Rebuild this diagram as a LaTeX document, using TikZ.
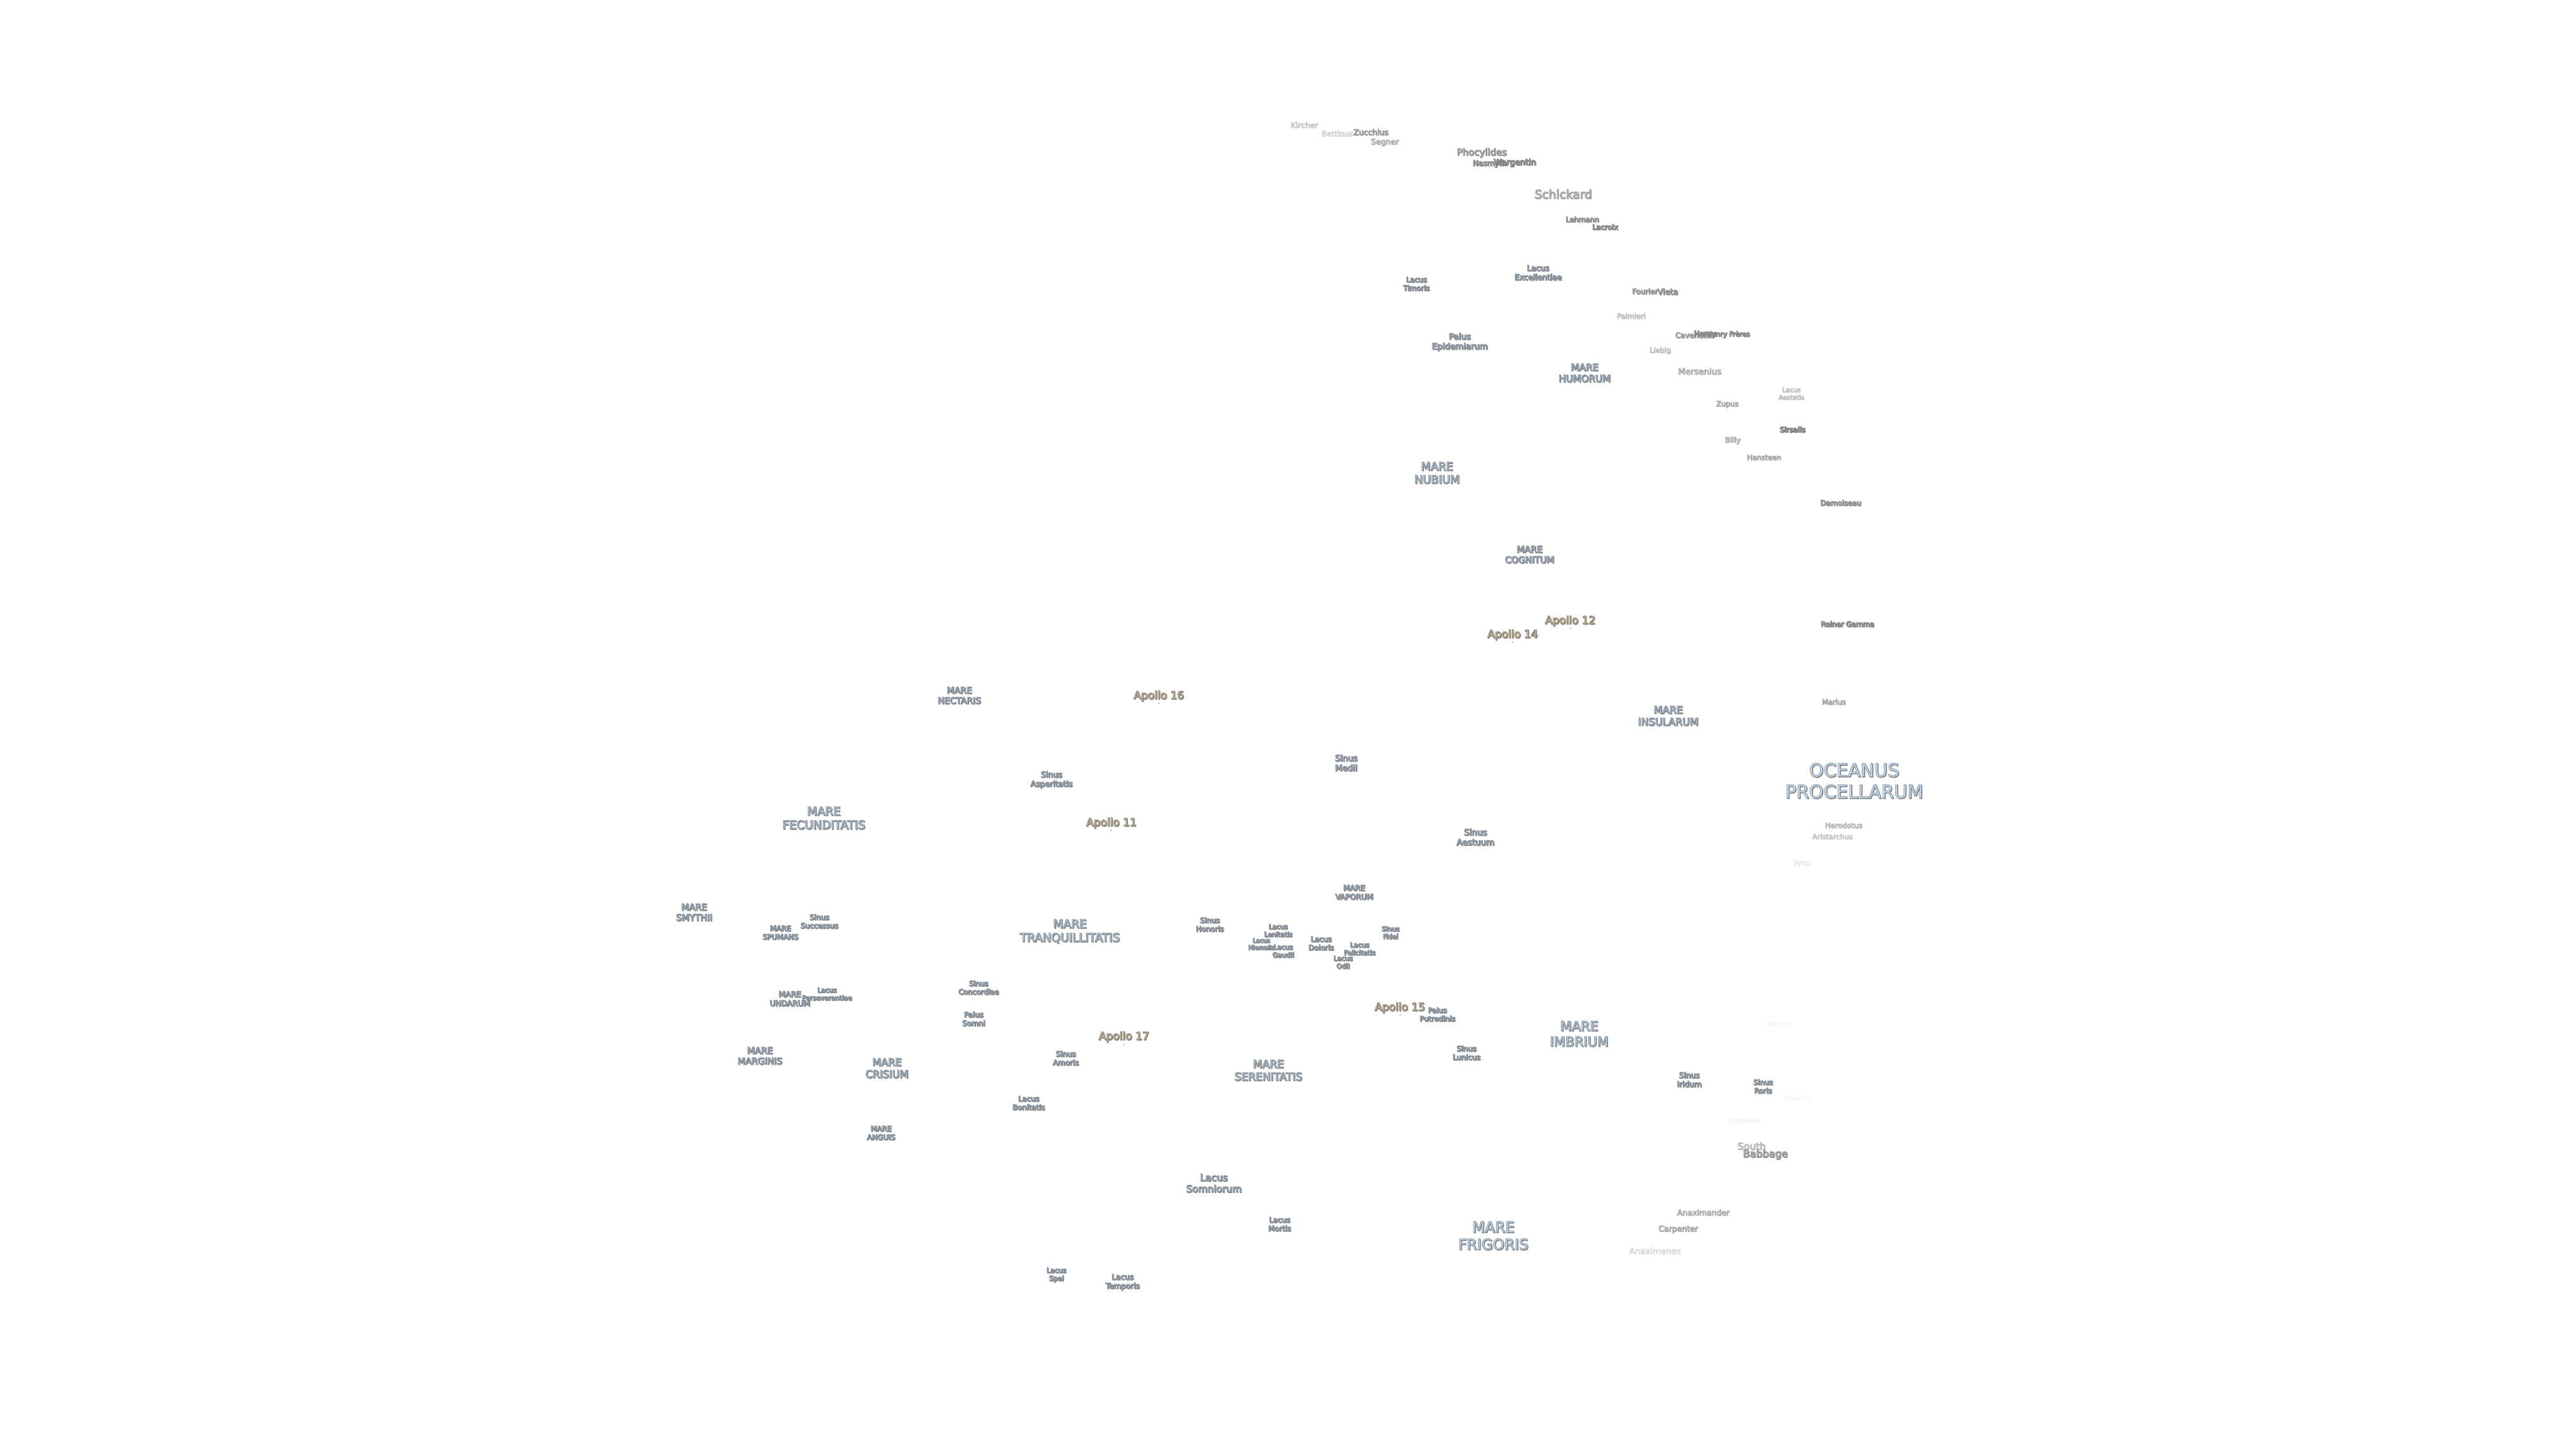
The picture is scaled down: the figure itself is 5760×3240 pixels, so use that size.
\documentclass[tikz,border=0pt]{standalone}
\usepackage{fontspec}
\newfontfamily\lblfont{DejaVu Sans}
\definecolor{marefill}{HTML}{CBE3FA}
\definecolor{mareline}{HTML}{8E99A4}
\definecolor{apfill}{HTML}{FCE2B0}
\definecolor{apline}{HTML}{978D7C}
\definecolor{crfill}{HTML}{E8E8E8}
\definecolor{crline}{HTML}{8A8A8A}
\definecolor{lblshade}{HTML}{737373}
\newsavebox{\lblbox}
\newcommand{\lbl}[1]{\setbox\lblbox=\hbox{\begin{tabular}{@{}c@{}}#1\end{tabular}}%
\rlap{\raisebox{-1.2pt}{\hspace{1.2pt}\color{lblshade}\usebox{\lblbox}}}%
{\pgfsetstrokecolor{\lblline}\usebox{\lblbox}}}
\tikzset{
fs/.code={\pgfmathsetmacro\lblskip{#1*1.17}\pgfmathsetmacro\lblfb{140/#1}%
\tikzset{font=\lblfont\fontsize{#1}{\lblskip}\selectfont\addfontfeature{FakeBold=\lblfb}}},
lblbase/.style={inner sep=0pt,outer sep=0pt},
mare/.style={lblbase,text=marefill,execute at begin node={\def\lblline{mareline}}},
apollo/.style={lblbase,fs=24,text=apfill,execute at begin node={\def\lblline{apline}}},
crater/.style={lblbase,text=crfill,execute at begin node={\def\lblline{crline}}},
site/.style={circle,fill=apline,inner sep=0pt,minimum size=3pt}
}
\begin{document}
\begin{tikzpicture}[x=1pt,y=-1pt]
\useasboundingbox (0,-2) rectangle (5760,3238);
\node[crater,fs=17.5,opacity=.2] (kircher) at (2916,280) {\lbl{Kircher}};
\node[crater,fs=17,opacity=.15] (bettinus) at (2990,299) {\lbl{Bettinus}};
\node[crater,fs=17.5,opacity=.55] (zucchius) at (3065,296) {\lbl{Zucchius}};
\node[crater,fs=17.5,opacity=.35] (segner) at (3096,317) {\lbl{Segner}};
\node[crater,fs=21,opacity=.65] (phocylides) at (3313,341) {\lbl{Phocylides}};
\node[crater,fs=17,opacity=.8] (nasmyth) at (3331,365) {\lbl{Nasmyth}};
\node[crater,fs=18.5] (wargentin) at (3387,363) {\lbl{Wargentin}};
\node[crater,fs=26.5,opacity=.55] (schickard) at (3495,436) {\lbl{Schickard}};
\node[crater,fs=16,opacity=.75] (lehmann) at (3538,491) {\lbl{Lehmann}};
\node[crater,fs=16,opacity=.9] (lacroix) at (3589,508) {\lbl{Lacroix}};
\node[mare,fs=17.4] (excellentiae) at (3439,610) {\lbl{Lacus\\Excellentiae}};
\node[mare,fs=16.2] (timoris) at (3167,635) {\lbl{Lacus\\Timoris}};
\node[crater,fs=16.4,opacity=.65] (fourier) at (3678,652) {\lbl{Fourier}};
\node[crater,fs=18,opacity=.75] (vieta) at (3729,653) {\lbl{Vieta}};
\node[crater,fs=16,opacity=.25] (palmieri) at (3647,707) {\lbl{Palmieri}};
\node[crater,fs=16.6,opacity=.55] (cavendish) at (3789,750) {\lbl{Cavendish}};
\node[crater,fs=16.3,opacity=.9] (henry) at (3812,746) {\lbl{Henry}};
\node[crater,fs=15.2,opacity=.85] (freres) at (3864,747) {\lbl{Henry Frères}};
\node[crater,fs=16,opacity=.25] (liebig) at (3712,783) {\lbl{Liebig}};
\node[mare,fs=18.7] (epidemiarum) at (3264,764) {\lbl{Palus\\Epidemiarum}};
\node[mare,fs=21.4] (humorum) at (3543,835) {\lbl{MARE\\HUMORUM}};
\node[crater,fs=19,opacity=.35] (mersenius) at (3800,831) {\lbl{Mersenius}};
\node[mare,fs=14.4,opacity=.25] (aestatis) at (4005,880) {\lbl{Lacus\\Aestatis}};
\node[crater,fs=16,opacity=.4] (zupus) at (3862,903) {\lbl{Zupus}};
\node[crater,fs=16.2] (sirsalis) at (4008,961) {\lbl{Sirsalis}};
\node[crater,fs=16.6,opacity=.35] (billy) at (3874,984) {\lbl{Billy}};
\node[crater,fs=16,opacity=.4] (hansteen) at (3944,1023) {\lbl{Hansteen}};
\node[mare,fs=25] (nubium) at (3213,1059) {\lbl{MARE\\NUBIUM}};
\node[crater,fs=16.2,opacity=.75] (damoiseau) at (4116,1125) {\lbl{Damoiseau}};
\node[mare,fs=20] (cognitum) at (3420,1241) {\lbl{MARE\\COGNITUM}};
\node[apollo] (a12) at (3511,1388) {\lbl{Apollo 12}};
\node[site] (a12s) at (3511,1403) {};
\node[apollo] (a14) at (3382,1419) {\lbl{Apollo 14}};
\node[site] (a14s) at (3382,1434) {};
\node[crater,fs=16,opacity=.9] (reiner) at (4131,1396) {\lbl{Reiner Gamma}};
\node[crater,fs=16,opacity=.4] (marius) at (4100,1570) {\lbl{Marius}};
\node[mare,fs=22.7] (insularum) at (3730,1602) {\lbl{MARE\\INSULARUM}};
\node[mare,fs=41] (procellarum) at (4146,1750) {\lbl{OCEANUS\\PROCELLARUM}};
\node[crater,fs=16.2,opacity=.3] (herodotus) at (4122,1846) {\lbl{Herodotus}};
\node[crater,fs=16,opacity=.2] (aristarchus) at (4097,1871) {\lbl{Aristarchus}};
\node[crater,fs=16.3,opacity=.07] (prinz) at (4030,1930) {\lbl{Prinz}};
\node[mare,fs=19] (aestuum) at (3299,1873) {\lbl{Sinus\\Aestuum}};
\node[mare,fs=19.6] (nectaris) at (2145,1556) {\lbl{MARE\\NECTARIS}};
\node[apollo] (a16) at (2591,1556) {\lbl{Apollo 16}};
\node[site] (a16s) at (2591,1571) {};
\node[mare,fs=17.6] (asperitatis) at (2351,1743) {\lbl{Sinus\\Asperitatis}};
\node[mare,fs=26] (fecunditatis) at (1842,1831) {\lbl{MARE\\FECUNDITATIS}};
\node[apollo] (a11) at (2485,1840) {\lbl{Apollo 11}};
\node[site] (a11s) at (2485,1855) {};
\node[mare,fs=20] (smythii) at (1552,2041) {\lbl{MARE\\SMYTHII}};
\node[mare,fs=16.2] (successus) at (1832,2061) {\lbl{Sinus\\Successus}};
\node[mare,fs=16.3] (spumans) at (1745,2086) {\lbl{MARE\\SPUMANS}};
\node[mare,fs=26] (tranquillitatis) at (2392,2083) {\lbl{MARE\\TRANQUILLITATIS}};
\node[mare,fs=17.4] (undarum) at (1766,2234) {\lbl{MARE\\UNDARUM}};
\node[mare,fs=14.9] (perseverantiae) at (1849,2223) {\lbl{Lacus\\Perseverantiae}};
\node[mare,fs=16] (concordiae) at (2188,2209) {\lbl{Sinus\\Concordiae}};
\node[mare,fs=16.4] (somni) at (2177,2279) {\lbl{Palus\\Somni}};
\node[apollo] (a17) at (2513,2318) {\lbl{Apollo 17}};
\node[site] (a17s) at (2513,2334) {};
\node[mare,fs=16.6] (amoris) at (2383,2367) {\lbl{Sinus\\Amoris}};
\node[mare,fs=20] (marginis) at (1699,2362) {\lbl{MARE\\MARGINIS}};
\node[mare,fs=22.8] (crisium) at (1983,2390) {\lbl{MARE\\CRISIUM}};
\node[mare,fs=16.4] (bonitatis) at (2300,2467) {\lbl{Lacus\\Bonitatis}};
\node[mare,fs=16.3] (anguis) at (1970,2534) {\lbl{MARE\\ANGUIS}};
\node[mare,fs=15.3] (spei) at (2362,2850) {\lbl{Lacus\\Spei}};
\node[mare,fs=17] (temporis) at (2510,2866) {\lbl{Lacus\\Temporis}};
\node[mare,fs=18.7] (medii) at (3010,1707) {\lbl{Sinus\\Medii}};
\node[mare,fs=17] (vaporum) at (3028,1996) {\lbl{MARE\\VAPORUM}};
\node[mare,fs=16.3] (honoris) at (2705,2068) {\lbl{Sinus\\Honoris}};
\node[mare,fs=14.7] (lenitatis) at (2858,2081) {\lbl{Lacus\\Lenitatis}};
\node[mare,fs=13.4] (hiemalis) at (2820,2111) {\lbl{Lacus\\Hiemalis}};
\node[mare,fs=15] (gaudii) at (2869,2127) {\lbl{Lacus\\Gaudii}};
\node[mare,fs=16.3] (doloris) at (2954,2110) {\lbl{Lacus\\Doloris}};
\node[mare,fs=14.9] (felicitatis) at (3040,2122) {\lbl{Lacus\\Felicitatis}};
\node[mare,fs=15] (odii) at (3003,2152) {\lbl{Lacus\\Odii}};
\node[mare,fs=14.6] (fidei) at (3109,2086) {\lbl{Sinus\\Fidei}};
\node[apollo] (a15) at (3130,2253) {\lbl{Apollo 15}};
\node[site] (a15s) at (3131,2268) {};
\node[mare,fs=16] (putredinis) at (3214,2269) {\lbl{Palus\\Putredinis}};
\node[mare,fs=16.3] (lunicus) at (3279,2355) {\lbl{Sinus\\Lunicus}};
\node[mare,fs=29.6] (imbrium) at (3531,2314) {\lbl{MARE\\IMBRIUM}};
\node[mare,fs=24] (serenitatis) at (2836,2395) {\lbl{MARE\\SERENITATIS}};
\node[mare,fs=17] (iridum) at (3777,2415) {\lbl{Sinus\\Iridum}};
\node[mare,fs=16] (roris) at (3942,2430) {\lbl{Sinus\\Roris}};
\node[crater,fs=15.5,opacity=.03] (mairan) at (3977,2289) {\lbl{Mairan}};
\node[crater,fs=15,opacity=.025] (markov) at (4018,2455) {\lbl{Markov}};
\node[crater,fs=16,opacity=.04] (harpalus) at (3901,2505) {\lbl{Harpalus}};
\node[crater,fs=21.7,opacity=.3] (south) at (3916,2564) {\lbl{South}};
\node[crater,fs=22.6,opacity=.65] (babbage) at (3947,2581) {\lbl{Babbage}};
\node[mare,fs=21.5] (somniorum) at (2714,2647) {\lbl{Lacus\\Somniorum}};
\node[mare,fs=16.5] (mortis) at (2861,2738) {\lbl{Lacus\\Mortis}};
\node[mare,fs=33] (frigoris) at (3339,2766) {\lbl{MARE\\FRIGORIS}};
\node[crater,fs=17.5,opacity=.35] (anaximander) at (3808,2712) {\lbl{Anaximander}};
\node[crater,fs=17.5,opacity=.4] (carpenter) at (3752,2748) {\lbl{Carpenter}};
\node[crater,fs=18.8,opacity=.12] (anaximenes) at (3700,2798) {\lbl{Anaximenes}};
\end{tikzpicture}
\end{document}
